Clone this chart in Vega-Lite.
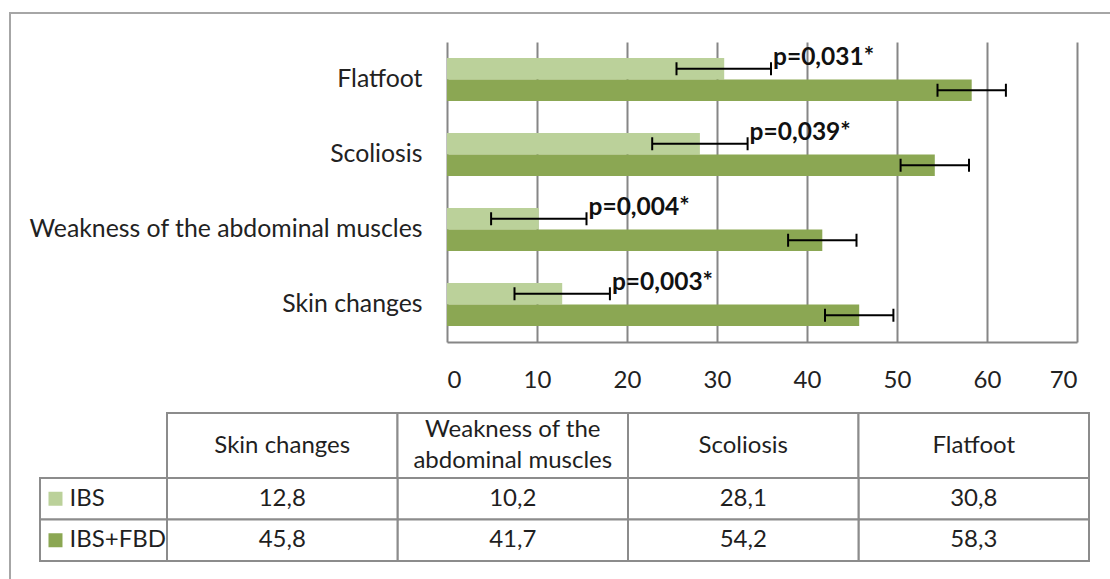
{
  "$schema": "https://vega.github.io/schema/vega-lite/v6.json",
  "width": 1102,
  "height": 568,
  "autosize": {"type": "none"},
  "padding": {"left": 10, "top": 13, "right": 0, "bottom": 0},
  "background": "white",
  "config": {
    "view": {"stroke": "#a6a6a6", "strokeWidth": 2},
    "font": "Lato",
    "locale": {"number": {"decimal": ",", "thousands": ".", "grouping": [3], "currency": ["", " €"]}}
  },
  "datasets": {
    "bars": [
      {"condition": "Flatfoot", "group": "IBS", "value": 30.8, "lo": 25.5, "hi": 36.0, "p": "p=0,031*"},
      {"condition": "Flatfoot", "group": "IBS+FBD", "value": 58.3, "lo": 54.5, "hi": 62.1, "p": null},
      {"condition": "Scoliosis", "group": "IBS", "value": 28.1, "lo": 22.8, "hi": 33.4, "p": "p=0,039*"},
      {"condition": "Scoliosis", "group": "IBS+FBD", "value": 54.2, "lo": 50.4, "hi": 58.0, "p": null},
      {"condition": "Weakness of the abdominal muscles", "group": "IBS", "value": 10.2, "lo": 4.9, "hi": 15.5, "p": "p=0,004*"},
      {"condition": "Weakness of the abdominal muscles", "group": "IBS+FBD", "value": 41.7, "lo": 37.9, "hi": 45.5, "p": null},
      {"condition": "Skin changes", "group": "IBS", "value": 12.8, "lo": 7.5, "hi": 18.1, "p": "p=0,003*"},
      {"condition": "Skin changes", "group": "IBS+FBD", "value": 45.8, "lo": 42.0, "hi": 49.6, "p": null}
    ],
    "headers": [
      {"condition": "Skin changes", "row": "header", "label": "Skin changes", "lines": 1},
      {"condition": "Weakness of the abdominal muscles", "row": "header", "label": "Weakness of the\nabdominal muscles", "lines": 2},
      {"condition": "Scoliosis", "row": "header", "label": "Scoliosis", "lines": 1},
      {"condition": "Flatfoot", "row": "header", "label": "Flatfoot", "lines": 1}
    ],
    "series": [
      {"group": "IBS"},
      {"group": "IBS+FBD"}
    ]
  },
  "resolve": {
    "scale": {"x": "independent", "y": "independent", "color": "independent"},
    "axis": {"x": "independent", "y": "independent"}
  },
  "layer": [
    {
      "data": {"name": "bars"},
      "encoding": {
        "y": {
          "field": "condition", "type": "nominal",
          "sort": ["Flatfoot", "Scoliosis", "Weakness of the abdominal muscles", "Skin changes"],
          "scale": {"domain": ["Flatfoot", "Scoliosis", "Weakness of the abdominal muscles", "Skin changes"], "range": [29, 329], "paddingInner": 0.427, "paddingOuter": 0.2135},
          "axis": {"orient": "left", "offset": -437, "title": null, "ticks": false, "grid": false, "domainColor": "#868686", "domainWidth": 2, "labelFontSize": 24.8, "labelColor": "#222222", "labelPadding": 25, "labelLimit": 800, "labelFont": "Lato"}
        },
        "yOffset": {"field": "group", "type": "nominal", "sort": ["IBS", "IBS+FBD"], "scale": {"domain": ["IBS", "IBS+FBD"], "paddingInner": 0, "paddingOuter": 0}}
      },
      "resolve": {"axis": {"x": "independent"}},
      "layer": [
        {
          "mark": {"type": "bar"},
          "encoding": {
            "x": {"field": "value", "type": "quantitative",
              "scale": {"domain": [0, 70], "range": [437, 1067], "nice": false, "zero": true},
              "axis": {"orient": "bottom", "offset": -239, "title": null, "grid": false, "ticks": false, "values": [0, 10, 20, 30, 40, 50, 60, 70], "domainColor": "#868686", "domainWidth": 2, "labelFontSize": 24, "labelColor": "#222222", "labelPadding": 26, "labelFont": "Lato"}},
            "color": {"field": "group", "type": "nominal", "scale": {"domain": ["IBS", "IBS+FBD"], "range": ["#bbd19a", "#8ba753"]}, "legend": null}
          }
        },
        {
          "mark": {"type": "rule", "color": "black", "strokeWidth": 2},
          "encoding": {
            "x": {"field": "lo", "type": "quantitative",
              "axis": {"orient": "top", "title": null, "grid": true, "gridColor": "#868686", "gridWidth": 2, "gridOpacity": 1, "labels": false, "ticks": false, "domain": false, "values": [10, 20, 30, 40, 50, 60, 70]}},
            "x2": {"field": "hi"}
          }
        },
        {
          "mark": {"type": "tick", "orient": "vertical", "color": "black", "thickness": 2, "size": 13, "opacity": 1},
          "encoding": {"x": {"field": "lo", "type": "quantitative", "axis": null}}
        },
        {
          "mark": {"type": "tick", "orient": "vertical", "color": "black", "thickness": 2, "size": 13, "opacity": 1},
          "encoding": {"x": {"field": "hi", "type": "quantitative", "axis": null}}
        },
        {
          "transform": [{"filter": "datum.p != null"}],
          "mark": {"type": "text", "align": "left", "baseline": "alphabetic", "dx": 2, "dy": -4, "fontSize": 24.5, "fontWeight": "bold", "color": "#111111", "font": "Lato"},
          "encoding": {
            "x": {"field": "hi", "type": "quantitative", "axis": null},
            "text": {"field": "p"}
          }
        }
      ]
    },
    {
      "data": {"name": "headers"},
      "encoding": {
        "x": {"field": "condition", "type": "nominal", "sort": ["Skin changes", "Weakness of the abdominal muscles", "Scoliosis", "Flatfoot"],
          "scale": {"domain": ["Skin changes", "Weakness of the abdominal muscles", "Scoliosis", "Flatfoot"], "range": [157, 1079], "paddingInner": 0, "paddingOuter": 0}, "axis": null},
        "y": {"field": "row", "type": "nominal", "scale": {"domain": ["header"], "range": [400, 465], "paddingInner": 0, "paddingOuter": 0}, "axis": null}
      },
      "layer": [
        {"mark": {"type": "rect", "fill": "white", "stroke": "#8c8c8c", "strokeWidth": 2}},
        {"transform": [{"filter": "datum.lines == 1"}],
         "mark": {"type": "text", "fontSize": 24, "color": "#1f1f1f", "font": "Lato"},
         "encoding": {"text": {"field": "label"}}},
        {"transform": [{"filter": "datum.lines == 2"}],
         "mark": {"type": "text", "fontSize": 24, "lineBreak": "\n", "lineHeight": 31, "dy": -15.5, "color": "#1f1f1f", "font": "Lato"},
         "encoding": {"text": {"field": "label"}}}
      ]
    },
    {
      "data": {"name": "bars"},
      "encoding": {
        "x": {"field": "condition", "type": "nominal", "sort": ["Skin changes", "Weakness of the abdominal muscles", "Scoliosis", "Flatfoot"],
          "scale": {"domain": ["Skin changes", "Weakness of the abdominal muscles", "Scoliosis", "Flatfoot"], "range": [157, 1079], "paddingInner": 0, "paddingOuter": 0}, "axis": null},
        "y": {"field": "group", "type": "nominal", "scale": {"domain": ["IBS", "IBS+FBD"], "range": [465, 548], "paddingInner": 0, "paddingOuter": 0}, "axis": null}
      },
      "layer": [
        {"mark": {"type": "rect", "fill": "white", "stroke": "#8c8c8c", "strokeWidth": 2}},
        {"mark": {"type": "text", "fontSize": 24, "color": "#1f1f1f", "font": "Lato"},
         "encoding": {"text": {"field": "value", "type": "quantitative", "format": ".1f"}}}
      ]
    },
    {
      "data": {"name": "series"},
      "encoding": {
        "y": {"field": "group", "type": "nominal", "scale": {"domain": ["IBS", "IBS+FBD"], "range": [465, 548], "paddingInner": 0, "paddingOuter": 0}, "axis": null}
      },
      "layer": [
        {"mark": {"type": "rect", "fill": "white", "stroke": "#8c8c8c", "strokeWidth": 2},
         "encoding": {
           "x": {"datum": 0, "type": "quantitative", "scale": {"domain": [0, 1], "range": [30, 157], "nice": false, "zero": false}, "axis": null},
           "x2": {"datum": 1}
         }},
        {"mark": {"type": "point", "shape": "square", "size": 196, "filled": true, "opacity": 1},
         "encoding": {
           "x": {"datum": 0.122, "type": "quantitative"},
           "color": {"field": "group", "type": "nominal", "scale": {"domain": ["IBS", "IBS+FBD"], "range": ["#bbd19a", "#8ba753"]}, "legend": null}
         }},
        {"mark": {"type": "text", "align": "left", "fontSize": 24, "color": "#1f1f1f", "font": "Lato"},
         "encoding": {
           "x": {"datum": 0.232, "type": "quantitative"},
           "text": {"field": "group"}
         }}
      ]
    }
  ]
}
